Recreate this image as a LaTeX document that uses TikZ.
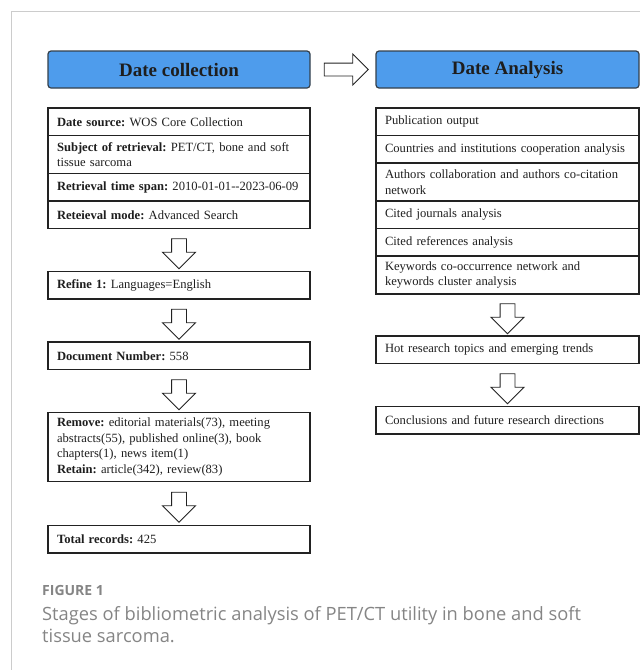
\documentclass[tikz,border=0pt]{standalone}
\usepackage{fontspec}
\setmainfont{Liberation Serif}
\newfontfamily\capfont{Open Sans}
\usetikzlibrary{shapes.arrows, positioning, calc}
\definecolor{headblue}{HTML}{4E9CEC}
\definecolor{headline}{HTML}{34404C}
\definecolor{celline}{HTML}{222222}
\definecolor{textdark}{HTML}{1E1E1E}
\definecolor{framegrey}{HTML}{CCCCCC}
\definecolor{capgrey}{HTML}{858585}
\frenchspacing
\hyphenpenalty=10000

\begin{document}
\begin{tikzpicture}[
    x=1pt, y=-1pt,
    font=\fontsize{12.6}{15.5}\selectfont,
    node distance=43pt,
    header/.style={
        rectangle, rounded corners=3pt,
        draw=headline, line width=1.2pt,
        fill=headblue,
        minimum width=262pt, minimum height=37pt,
        font=\fontsize{19}{22}\selectfont\bfseries,
        text=textdark
    },
    cell/.style={
        rectangle, draw=celline, line width=1.3pt,
        text width=244pt, inner xsep=9pt, inner ysep=4pt,
        minimum height=27.5pt,
        align=left, text=textdark,
        outer sep=0pt, anchor=north
    },
    cell2/.style={cell, minimum height=38pt},
    downarr/.style={
        single arrow, draw=celline, fill=white,
        line width=0.9pt,
        inner sep=7pt, minimum height=30pt,
        single arrow head extend=9pt,
        rotate=-90
    }
]

\useasboundingbox (0,0) rectangle (640,670);

% ==========================================
% PANEL FRAME
% ==========================================

\draw[framegrey, line width=1pt] (11,670) -- (11,11) -- (640,11);

% ==========================================
% HEADERS
% ==========================================

\node[header] (collect) at (179,69.5) {Date collection};
\node[header, minimum width=263pt] (analysis) at (507.5,69.5) {Date Analysis};

\node[single arrow, draw=celline, fill=white, line width=0.9pt,
      inner sep=6pt, minimum height=44pt, single arrow head extend=9pt]
      (arrR) at ($(collect.east)!0.5!(analysis.west)$) {};

% ==========================================
% DATE COLLECTION COLUMN
% ==========================================

\node[cell] (dsrc) at (179,108) {\textbf{Date source:} WOS Core Collection};
\node[cell2, below=0pt of dsrc] (subj)
{\textbf{Subject of retrieval:} PET/CT, bone and soft\\ tissue sarcoma};
\node[cell, below=0pt of subj] (tspan)
{\textbf{Retrieval time span:} 2010-01-01-{}-2023-06-09};
\node[cell, below=0pt of tspan] (mode)
{\textbf{Reteieval mode:} Advanced Search};

\node[cell, below=of mode] (refine) {\textbf{Refine 1:} Languages=English};
\node[cell, below=of refine] (docnum) {\textbf{Document Number:} 558};
\node[cell, below=of docnum, minimum height=69pt] (remove)
{\textbf{Remove:} editorial materials(73), meeting\\ abstracts(55), published online(3), book\\ chapters(1), news item(1)\\
\textbf{Retain:} article(342), review(83)};
\node[cell, below=44pt of remove] (total) {\textbf{Total records:} 425};

\node[downarr] (a1) at ($(mode.south)!0.5!(refine.north)$) {};
\node[downarr] (a2) at ($(refine.south)!0.5!(docnum.north)$) {};
\node[downarr] (a3) at ($(docnum.south)!0.5!(remove.north)$) {};
\node[downarr] (a4) at ($(remove.south)!0.5!(total.north)$) {};

% ==========================================
% DATE ANALYSIS COLUMN
% ==========================================

\node[cell, text width=245pt] (pub) at (507.5,108) {Publication output};
\node[cell, text width=245pt, below=0pt of pub] (coop)
{Countries and institutions cooperation analysis};
\node[cell2, text width=245pt, below=0pt of coop] (authors)
{Authors collaboration and authors co-citation\\ network};
\node[cell, text width=245pt, below=0pt of authors] (journals) {Cited journals analysis};
\node[cell, text width=245pt, below=0pt of journals] (refs) {Cited references analysis};
\node[cell2, text width=245pt, below=0pt of refs] (keywords)
{Keywords co-occurrence network and\\ keywords cluster analysis};

\node[cell, text width=245pt, below=42pt of keywords] (hot)
{Hot research topics and emerging trends};
\node[cell, text width=245pt, below=of hot] (concl)
{Conclusions and future research directions};

\node[downarr] (a5) at ($(keywords.south)!0.5!(hot.north)$) {};
\node[downarr] (a6) at ($(hot.south)!0.5!(concl.north)$) {};

% ==========================================
% CAPTION
% ==========================================

\node[anchor=west, inner sep=0pt, text=capgrey,
      font=\capfont\fontsize{14}{16}\selectfont\bfseries] (fig) at (42,590) {FIGURE 1};
\node[anchor=north west, inner sep=0pt, text=capgrey, align=left,
      font=\capfont\fontsize{18.3}{22}\selectfont] (cap) at (42,606)
{Stages of bibliometric analysis of PET/CT utility in bone and soft\\
tissue sarcoma.};

\end{tikzpicture}
\end{document}
